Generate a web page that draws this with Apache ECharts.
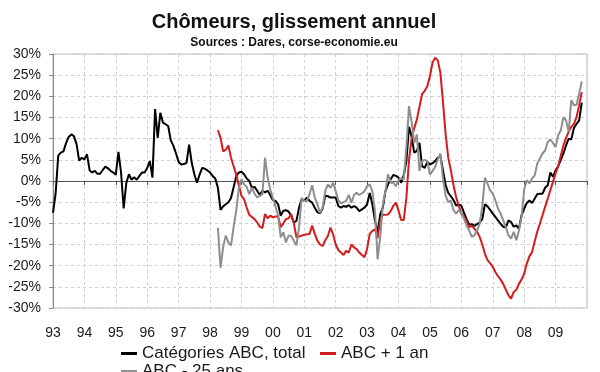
<!DOCTYPE html>
<html>
<head>
<meta charset="utf-8">
<script src="https://cdn.jsdelivr.net/npm/echarts@6/dist/echarts.min.js"></script>
<style>
html,body{margin:0;padding:0;background:#ffffff;}
#chart{width:600px;height:372px;}
</style>
</head>
<body>
<div id="chart"></div>
<script>
// ---------- texts ----------
const titleText = 'Chômeurs, glissement annuel';
const subtitleText = 'Sources : Dares, corse-economie.eu';
const xTickLabels = ['93','94','95','96','97','98','99','00','01','02','03','04','05','06','07','08','09'];
const seriesNames = ['Catégories ABC, total', 'ABC + 1 an', 'ABC - 25 ans'];

// ---------- data (monthly, % year-on-year) ----------
// Catégories ABC, total : from Jan 1993
const totalStartYear = 1993, totalStartMonth = 0;
const totalValues = [
  -7.5, -3.0, 6.0, 6.7, 7.0, 9.0, 10.4, 11.0, 10.6, 8.7, 4.8, 5.5,
  5.1, 6.3, 2.5, 2.0, 2.4, 1.7, 1.7, 2.6, 3.4, 3.0, 2.4, 2.0,
  1.5, 6.9, 2.0, -6.5, -0.5, 1.6, 0.3, 0.9, 0.3, 1.2, 2.0, 2.0,
  3.1, 4.7, 0.8, 17.0, 10.2, 16.1, 13.8, 13.4, 13.0, 9.6, 8.3, 6.5,
  4.5, 3.9, 4.0, 4.3, 8.6, 4.3, 1.6, -0.4, 1.5, 3.1, 2.9, 2.5,
  2.0, 1.2, 0.6, -1.6, -6.8, -6.0, -5.5, -5.0, -4.0, -1.5, 1.2, 2.0,
  2.2, 1.6, 0.6, 0.0, -1.6, -1.4, -2.3, -3.3, -2.3, -2.7, -2.3, -3.3,
  -4.5, -4.7, -5.5, -8.2, -7.0, -6.9, -7.2, -8.2, -9.8, -9.4, -6.3, -4.3,
  -4.7, -3.9, -4.7, -5.1, -6.3, -7.4, -7.6, -6.5, -3.5, -3.6, -3.9, -3.9,
  -3.9, -5.9, -6.3, -5.9, -6.1, -5.7, -6.3, -5.9, -6.3, -7.1, -6.7, -6.3,
  -5.5, -2.8, -5.5, -9.4, -12.2, -7.9, -6.3, -2.4, -0.8, 0.4, 1.4, 1.2,
  0.8, -0.4, 1.4, 4.7, 12.8, 10.5, 6.7, 7.1, 9.0, 3.5, 3.1, 4.5,
  3.9, 4.2, 4.7, 5.5, 5.9, 2.5, -1.0, -2.8, -3.6, -4.5, -5.8, -5.6,
  -5.8, -7.5, -9.0, -10.3, -10.2, -10.6, -10.2, -9.8, -9.0, -5.5, -6.0, -6.8,
  -7.7, -8.5, -9.3, -10.1, -10.8, -11.0, -9.3, -9.7, -10.8, -10.5, -11.3, -8.1,
  -6.5, -5.2, -4.6, -5.2, -4.2, -3.1, -3.0, -3.0, -1.6, -1.0, 2.0, 1.0,
  2.5, 3.5, 5.0, 6.5, 8.4, 10.0, 9.8, 12.5, 13.5, 14.3, 18.5
];
// ABC + 1 an : from Apr 1998
const plusUnAnStartYear = 1998, plusUnAnStartMonth = 3;
const plusUnAnValues = [
  12.0, 10.2, 7.0, 7.4, 8.4, 5.5, 3.5, 1.5, -1.0,
  -3.5, -4.3, -6.3, -8.0, -8.5, -9.0, -9.8, -10.8, -11.1, -7.8, -8.8, -8.2,
  -8.6, -8.4, -8.4, -10.9, -10.0, -9.0, -8.8, -7.8, -10.0, -13.3, -13.1, -12.9,
  -12.7, -12.6, -12.5, -10.5, -12.5, -14.1, -15.0, -15.4, -14.0, -13.0, -11.0, -12.6,
  -15.0, -16.3, -16.9, -17.5, -16.5, -16.9, -15.0, -15.7, -16.1, -16.9, -17.5, -18.0,
  -16.0, -12.5, -11.8, -11.4, -13.5, -9.4, -7.9, -8.0, -7.9, -7.1, -5.9, -5.1,
  -7.0, -9.2, -9.2, -4.0, 5.0, 10.0, 12.5, 14.5, 17.5, 20.5, 21.3, 22.4,
  24.8, 28.0, 29.1, 28.5, 25.5, 18.5, 11.0, 5.5, 2.5, -1.0, -3.8, -5.8,
  -7.8, -8.3, -9.5, -10.9, -10.6, -11.3, -12.0, -13.2, -15.0, -17.2, -18.7, -19.4,
  -20.3, -21.5, -22.5, -23.3, -24.3, -25.7, -27.0, -27.8, -26.2, -25.7, -24.3, -23.3,
  -21.9, -19.5, -17.8, -16.8, -14.3, -12.0, -10.1, -8.1, -6.1, -4.2, -2.2, -0.2,
  1.8, 3.5, 6.0, 8.4, 10.2, 11.6, 12.8, 13.5, 15.1, 17.9, 21.0
];
// ABC - 25 ans : from Apr 1998
const moins25StartYear = 1998, moins25StartMonth = 3;
const moins25Values = [
  -11.0, -20.5, -15.6, -12.9, -14.5, -15.2, -10.9, -7.0, -1.6,
  0.4, -0.8, -1.4, -3.1, -1.6, -3.0, -3.9, -3.5, -3.1, 5.5, 0.8, -2.0,
  -4.0, -6.0, -8.2, -13.3, -12.1, -14.5, -12.9, -13.0, -14.1, -15.2, -10.9, -4.0,
  -4.7, -4.7, -3.1, -1.0, -3.9, -5.5, -7.5, -6.3, -2.4, -0.8, -1.6, -0.4,
  -2.4, -4.5, -5.3, -5.0, -4.7, -3.3, -5.1, -3.3, -2.8, -3.3, -2.9, -2.4,
  -1.2, -0.8, -2.4, -7.1, -18.5, -13.4, -5.5, -2.4, 1.6, -0.4, -0.4, -1.2,
  0.2, 0.6, 0.4, 8.0, 17.7, 14.0, 9.0, 11.0, 2.4, 4.7, 5.0, 4.7,
  1.5, 2.4, 3.3, 5.1, 6.5, 0.5, -3.5, -5.0, -4.6, -6.9, -7.7, -6.9,
  -7.5, -8.9, -10.5, -11.7, -13.2, -12.8, -11.7, -10.1, -6.0, 0.8, -0.6, -2.2,
  -3.0, -4.6, -6.5, -7.7, -9.3, -10.9, -12.8, -13.6, -12.0, -14.0, -11.7, -8.5,
  -2.0, 0.2, -0.6, 0.6, 1.3, 4.1, 5.3, 6.5, 7.2, 9.2, 9.8, 9.0,
  8.0, 10.8, 12.0, 15.1, 14.3, 11.6, 19.1, 17.9, 18.0, 20.6, 23.5
];

// ---------- build ----------
function monthly(values, y0, m0) {
  return values.map((v, i) => [y0 + (m0 + i) / 12, v]);
}
const FONT = '"Liberation Sans", Arial, sans-serif';
const xMin = 1993, xMax = 2010;

const chart = echarts.init(document.getElementById('chart'), null, {renderer: 'canvas'});
const legendCommon = {
  icon: 'rect', itemWidth: 16, itemHeight: 3, itemGap: 0, padding: 0,
  selectedMode: false,
  textStyle: {fontSize: 17, color: '#1a1a1a', fontFamily: FONT}
};
chart.setOption({
  animation: false,
  backgroundColor: '#ffffff',
  title: [
    {text: titleText, left: 294, top: 12, textAlign: 'center', padding: 0,
     textStyle: {fontSize: 20, fontWeight: 'bold', color: '#111', fontFamily: FONT}},
    {text: subtitleText, left: 294, top: 37, textAlign: 'center', padding: 0,
     textStyle: {fontSize: 12, fontWeight: 'bold', color: '#111', fontFamily: FONT}}
  ],
  legend: [
    Object.assign({data: [seriesNames[0]], left: 121, top: 345}, legendCommon),
    Object.assign({data: [seriesNames[1]], left: 320, top: 345}, legendCommon),
    Object.assign({data: [seriesNames[2]], left: 121, top: 363}, legendCommon)
  ],
  grid: {left: 53, right: 13, top: 54, bottom: 64, show: true,
         borderColor: '#bdbdbd', borderWidth: 1, containLabel: false},
  xAxis: [
    {type: 'value', min: xMin, max: xMax, interval: 1,
     axisLine: {show: true, onZero: true, lineStyle: {color: '#555', width: 1}},
     axisTick: {show: true, length: 4, lineStyle: {color: '#555'}},
     axisLabel: {show: false},
     splitLine: {show: true, lineStyle: {color: '#cfcfcf', type: [3, 3], width: 1}}},
    {type: 'value', min: xMin, max: xMax, interval: 1, position: 'bottom',
     axisLine: {show: false, onZero: false},
     axisTick: {show: false},
     splitLine: {show: false},
     axisLabel: {show: true, margin: 18, fontSize: 14, color: '#1a1a1a', fontFamily: FONT,
       showMaxLabel: false,
       formatter: function (v) {
         const i = Math.round(v - xMin);
         return (i >= 0 && i < xTickLabels.length) ? xTickLabels[i] : '';
       }}}
  ],
  yAxis: {
    type: 'value', min: -30, max: 30, interval: 5,
    axisLine: {show: true, onZero: false, lineStyle: {color: '#8a8a8a', width: 1}},
    axisTick: {show: true, length: 4, lineStyle: {color: '#8a8a8a'}},
    axisLabel: {formatter: '{value}%', fontSize: 14, color: '#1a1a1a', margin: 12, fontFamily: FONT},
    splitLine: {show: true, lineStyle: {color: '#cfcfcf', type: [3, 3], width: 1}}
  },
  series: [
    {name: seriesNames[0], type: 'line', xAxisIndex: 0, showSymbol: false, symbol: 'none',
     data: monthly(totalValues, totalStartYear, totalStartMonth),
     lineStyle: {color: '#000000', width: 2}, itemStyle: {color: '#000000'}},
    {name: seriesNames[1], type: 'line', xAxisIndex: 0, showSymbol: false, symbol: 'none',
     data: monthly(plusUnAnValues, plusUnAnStartYear, plusUnAnStartMonth),
     lineStyle: {color: '#d41c1c', width: 2}, itemStyle: {color: '#d41c1c'}},
    {name: seriesNames[2], type: 'line', xAxisIndex: 0, showSymbol: false, symbol: 'none',
     data: monthly(moins25Values, moins25StartYear, moins25StartMonth),
     lineStyle: {color: '#8e8e8e', width: 2}, itemStyle: {color: '#8e8e8e'}}
  ]
});
</script>
</body>
</html>
